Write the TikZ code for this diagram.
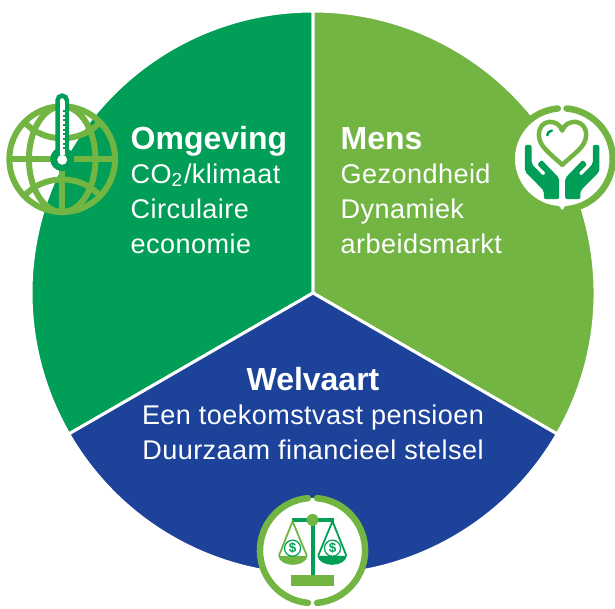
\documentclass[tikz,border=0pt]{standalone}
\usepackage{fontspec}
\usepackage{xcolor}
\setmainfont{Liberation Sans}
\usetikzlibrary{calc}
\definecolor{darkgreen}{HTML}{009E57}
\definecolor{lightgreen}{HTML}{72B543}
\definecolor{deepblue}{HTML}{1C429A}
\newfontfamily\spacedfont[LetterSpace=1.6]{Liberation Sans}
\tikzset{
    sector/.style={draw=white,line width=0.03cm,line join=round},
    title/.style={text=white,anchor=base west,inner sep=0pt,font=\fontsize{9.1}{11}\selectfont\bfseries},
    line/.style={text=white,anchor=base west,inner sep=0pt,font=\spacedfont\fontsize{7.7}{9}\selectfont},
    ringline/.style={draw=lightgreen,line width=0.065cm,line cap=round},
    coin/.style={circle,draw=#1,line width=0.012cm,fill=white,text=#1,minimum size=0.12cm,inner sep=0.3pt,font=\fontsize{3.8}{4}\selectfont\bfseries}
}
\begin{document}
\begin{tikzpicture}
    \useasboundingbox (0,0) rectangle (6.15,6.08);
    \coordinate (centre) at (3.13,3.15);

    % Sectors
    \fill[darkgreen,sector] (centre) -- ++(90:2.82) arc[start angle=90,end angle=210,radius=2.82] -- cycle;
    \fill[lightgreen,sector] (centre) -- ++(-30:2.82) arc[start angle=-30,end angle=90,radius=2.82] -- cycle;
    \fill[deepblue,sector] (centre) -- ++(210:2.82) arc[start angle=210,end angle=330,radius=2.82] -- cycle;

    % Omgeving
    \node[title] (omgeving) at (1.30,4.59) {Omgeving};
    \node[line] (klimaat) at (1.30,4.25) {CO\textsubscript{2}/klimaat};
    \node[line] (circulaire) at (1.30,3.90) {Circulaire};
    \node[line] (economie) at (1.30,3.55) {economie};

    % Mens
    \node[title] (mens) at (3.40,4.59) {Mens};
    \node[line] (gezondheid) at (3.40,4.25) {Gezondheid};
    \node[line] (dynamiek) at (3.40,3.90) {Dynamiek};
    \node[line] (arbeidsmarkt) at (3.40,3.55) {arbeidsmarkt};

    % Welvaart
    \node[title,anchor=base] (welvaart) at (3.13,2.18) {Welvaart};
    \node[line,anchor=base] (pensioen) at (3.13,1.84) {Een toekomstvast pensioen};
    \node[line,anchor=base] (stelsel) at (3.13,1.49) {Duurzaam financieel stelsel};

    % Globe with thermometer
    \begin{scope}[shift={(0,5.28)},x=0.003333cm,y=-0.003333cm]
        \begin{scope}[draw=lightgreen,line width=0.06cm]
            \draw (187,238) circle[radius=159];
            \draw (187,238) ellipse[x radius=100,y radius=159];
            \draw (28,238) -- (346,238);
            \draw (187,238) -- (187,397);
            \draw (72,125) .. controls (130,192) and (244,192) .. (302,125);
            \draw (72,350) .. controls (130,282) and (244,282) .. (302,350);
        \end{scope}
        \draw[darkgreen,line width=0.045cm,fill=white] (173,215) -- (173,61) arc[start angle=180,end angle=360,radius=14] -- (201,215);
        \fill[darkgreen] (187,238) circle[radius=36];
        \fill[white] (179,62) rectangle (195,225);
        \fill[white] (187,240) circle[radius=15];
        \foreach \y in {90,104,...,202}
            \fill[darkgreen] (189,\y) rectangle (196,\y+6);
    \end{scope}

    % Hands with heart
    \begin{scope}[shift={(5.00,5.18)},x=0.003333cm,y=-0.003333cm]
        \fill[white] (187,207) circle[radius=152];
        \draw[ringline] (187,207) ++(85:152) arc[start angle=85,end angle=-85,radius=152];
        \draw[ringline] (187,207) ++(95:152) arc[start angle=95,end angle=265,radius=152];
        \draw[lightgreen,line width=0.045cm,line join=round] (187,225) .. controls (150,190) and (117,170) .. (117,135)
            .. controls (117,85) and (175,85) .. (187,122)
            .. controls (199,85) and (259,85) .. (259,135)
            .. controls (259,170) and (224,190) .. (187,225) -- cycle;
        \draw[darkgreen,line width=0.025cm,line cap=round] (142,136) .. controls (143,128) and (148,123) .. (156,122);
        \fill[darkgreen,rounded corners=0.02cm] (75,165) -- (95,165) -- (95,222) -- (130,258) -- (138,250) -- (112,224) -- (125,210) -- (178,265)
            -- (178,328) -- (132,328) -- (132,303) -- (75,245) -- cycle;
        \fill[darkgreen,rounded corners=0.02cm] (299,165) -- (279,165) -- (279,222) -- (244,258) -- (236,250) -- (262,224) -- (249,210) -- (196,265)
            -- (196,328) -- (242,328) -- (242,303) -- (299,245) -- cycle;
    \end{scope}

    % Scales
    \begin{scope}[shift={(2.45,1.28)},x=0.003333cm,y=-0.003333cm]
        \fill[white] (203,212) circle[radius=158];
        \draw[ringline] (203,212) ++(85:158) arc[start angle=85,end angle=-85,radius=158];
        \draw[ringline] (203,212) ++(95:158) arc[start angle=95,end angle=265,radius=158];
        \draw[darkgreen,line width=0.035cm] (140,120) -- (268,120);
        \draw[darkgreen,line width=0.04cm] (203,120) -- (203,290);
        \fill[lightgreen] (138,285) rectangle (268,320);
        \fill[lightgreen] (203,120) circle[radius=18];
        % left pan
        \draw[lightgreen,line width=0.018cm] (102,228) -- (143,124) -- (186,228);
        \fill[lightgreen] (100,228) -- (188,228) .. controls (186,245) and (165,255) .. (144,255) .. controls (123,255) and (102,245) .. (100,228) -- cycle;
        \node[coin=darkgreen] (coinleft) at (143,205) {\$};
        % right pan
        \draw[darkgreen,line width=0.018cm] (220,228) -- (263,124) -- (305,228);
        \fill[darkgreen] (218,228) -- (306,228) .. controls (304,245) and (283,255) .. (262,255) .. controls (241,255) and (220,245) .. (218,228) -- cycle;
        \node[coin=darkgreen] (coinright) at (263,205) {\$};
    \end{scope}
\end{tikzpicture}
\end{document}
